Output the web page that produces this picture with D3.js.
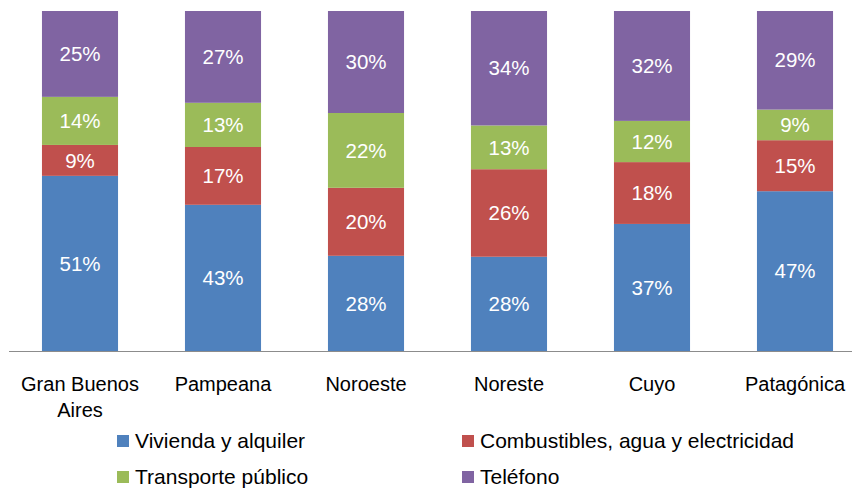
<!DOCTYPE html>
<html>
<head>
<meta charset="utf-8">
<script src="https://cdn.jsdelivr.net/npm/d3@7"></script>
<style>
  html, body { margin: 0; padding: 0; background: #fff; }
  svg { display: block; font-family: "Liberation Sans", Arial, Helvetica, sans-serif; }
</style>
</head>
<body>
<svg id="chart" width="853" height="492"></svg>
<script>
// Regional composition of household service spending (shares, %)
const regions = ["Gran Buenos Aires", "Pampeana", "Noroeste", "Noreste", "Cuyo", "Patagónica"];
const regionLines = [["Gran Buenos", "Aires"], ["Pampeana"], ["Noroeste"], ["Noreste"], ["Cuyo"], ["Patagónica"]];
const seriesNames = ["Vivienda y alquiler", "Combustibles, agua y electricidad", "Transporte público", "Teléfono"];
const vivienda     = [51, 43, 28, 28, 37, 47];
const combustibles = [9, 17, 20, 26, 18, 15];
const transporte   = [14, 13, 22, 13, 12, 9];
const telefono     = [25, 27, 30, 34, 32, 29];
const colors = ["#4F81BD", "#C0504D", "#9BBB59", "#8064A2"];

const keys = ["vivienda", "combustibles", "transporte", "telefono"];
const rows = regions.map((r, i) => ({
  region: r,
  vivienda: vivienda[i],
  combustibles: combustibles[i],
  transporte: transporte[i],
  telefono: telefono[i]
}));

const svg = d3.select("#chart");
const plotTop = 11, plotBase = 351;

const x = d3.scaleBand().domain(regions).range([8.5, 866.5]).paddingInner(0.468).paddingOuter(0.234);
const y = d3.scaleLinear().domain([0, 1]).range([plotBase, plotTop]);

const stack = d3.stack().keys(keys).offset(d3.stackOffsetExpand);
const layers = stack(rows);

const g = svg.append("g");
layers.forEach((layer, li) => {
  const lg = g.append("g").attr("fill", colors[li]);
  lg.selectAll("rect").data(layer).join("rect")
    .attr("x", d => x(d.data.region))
    .attr("width", x.bandwidth())
    .attr("y", d => y(d[1]))
    .attr("height", d => y(d[0]) - y(d[1]));
  lg.selectAll("text").data(layer).join("text")
    .attr("x", d => x(d.data.region) + x.bandwidth() / 2)
    .attr("y", d => (y(d[0]) + y(d[1])) / 2)
    .attr("dy", "0.35em")
    .attr("text-anchor", "middle")
    .attr("fill", "#fff")
    .attr("font-size", 20.5)
    .text(d => d.data[keys[li]] + "%");
});

// baseline
svg.append("line")
  .attr("x1", 9).attr("x2", 852)
  .attr("y1", plotBase + 0.5).attr("y2", plotBase + 0.5)
  .attr("stroke", "#8c8c8c").attr("stroke-width", 1);

// category labels
const cat = svg.append("g").attr("font-size", 20).attr("fill", "#000").attr("text-anchor", "middle");
regions.forEach((r, i) => {
  const cx = x(r) + x.bandwidth() / 2;
  const t = cat.append("text").attr("x", cx).attr("y", 391);
  regionLines[i].forEach((ln, k) => {
    t.append("tspan").attr("x", cx).attr("dy", k === 0 ? 0 : 26).text(ln);
  });
});

// legend
const legendPos = [[117, 435], [462, 435], [117, 471], [462, 471]];
const leg = svg.append("g").attr("font-size", 21).attr("fill", "#000");
seriesNames.forEach((name, i) => {
  const [lx, ly] = legendPos[i];
  leg.append("rect").attr("x", lx).attr("y", ly).attr("width", 12).attr("height", 12).attr("fill", colors[i]);
  leg.append("text").attr("x", lx + 18).attr("y", ly + 6).attr("dy", "0.35em").text(name);
});
</script>
</body>
</html>
